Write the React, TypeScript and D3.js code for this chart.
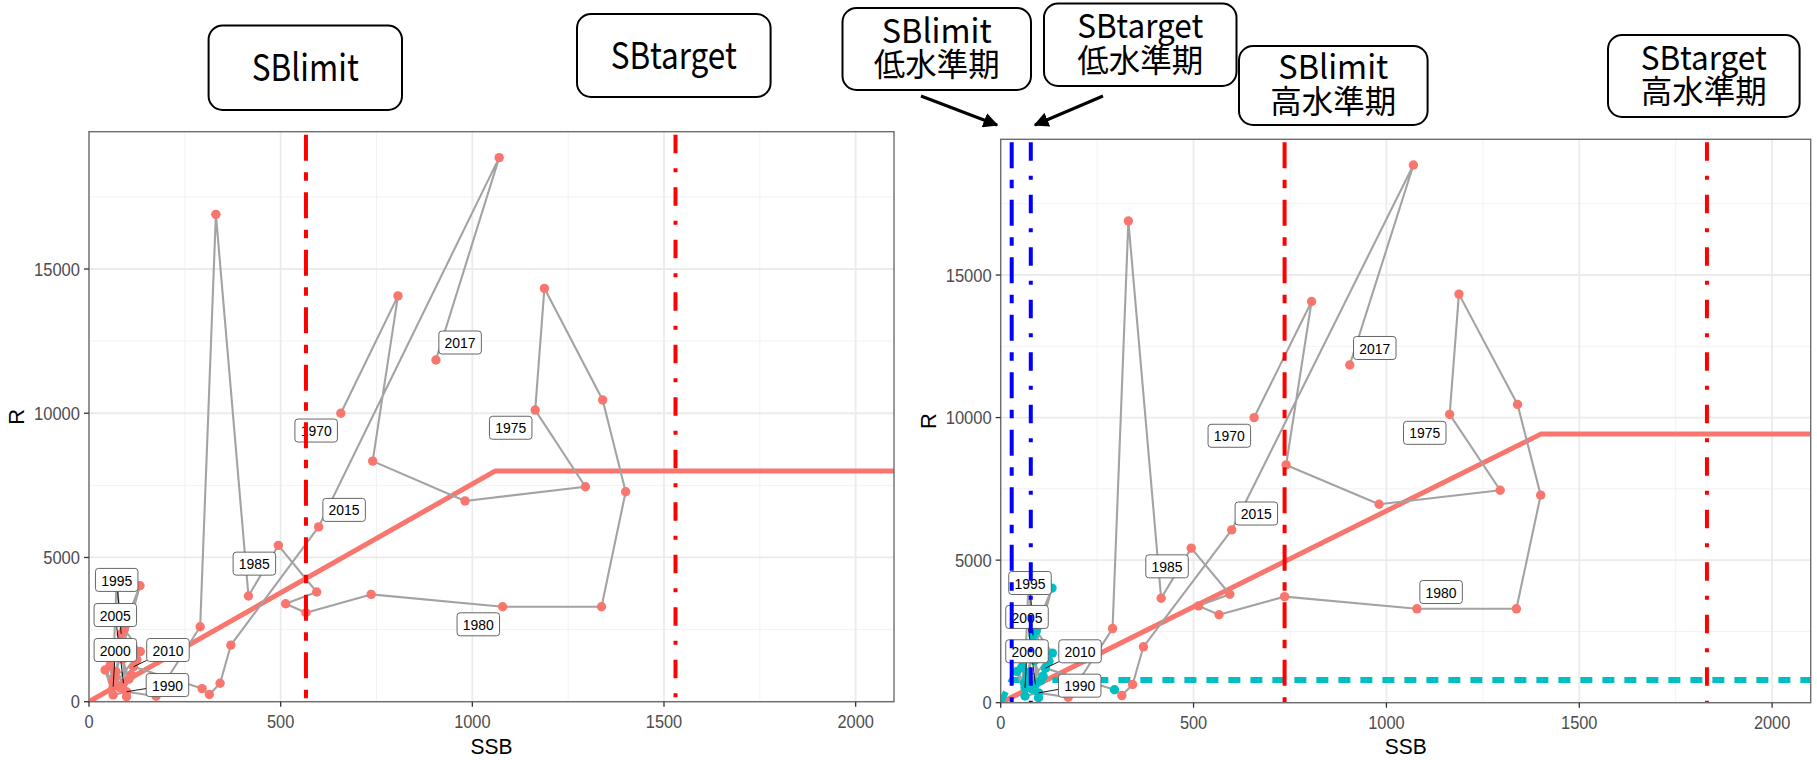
import React from "react";
import * as d3 from "d3";

// ---------------- data ----------------
const years = [
  1970, 1971, 1972, 1973, 1974, 1975, 1976, 1977, 1978, 1979, 1980,
  1981, 1982, 1983, 1984, 1985, 1986, 1987, 1988, 1989,
  1990, 1991, 1992, 1993, 1994, 1995, 1996, 1997, 1998, 1999,
  2000, 2001, 2002, 2003, 2004, 2005, 2006, 2007, 2008, 2009,
  2010, 2011, 2012, 2013, 2014, 2015, 2016, 2017,
];
const ssb = [
  657, 806, 740, 981, 1295, 1164, 1188, 1340, 1400, 1337, 1079,
  736, 566, 513, 594, 494, 416, 331, 290, 175,
  98, 63, 42, 62, 72, 84, 133, 68, 92, 134,
  63, 55, 98, 88, 104, 90, 70, 110, 82, 125,
  116, 295, 314, 342, 370, 599, 1070, 905,
];
const recruitment = [
  10000, 14070, 8340, 6960, 7450, 10110, 14330, 10460, 7280, 3293, 3293,
  3720, 3085, 3397, 3803, 5421, 3664, 16895, 2600, 190,
  345, 235, 1100, 700, 4200, 2350, 4020, 900, 2520, 1740,
  520, 1250, 175, 1480, 780, 640, 1050, 930, 470, 1450,
  1210, 455, 250, 640, 1960, 6060, 18860, 11845,
];
const labelYears = [1970, 1975, 1980, 1985, 1990, 1995, 2000, 2005, 2010, 2015, 2017];
const lowRegimePeriod = [1990, 2011];

const xTicks = [0, 500, 1000, 1500, 2000];
const yTicks = [0, 5000, 10000, 15000];
const xMinor = [250, 750, 1250, 1750];
const yMinor = [2500, 7500, 12500, 17500];
const xDomain = [0, 2100];
const yDomain = [0, 19760];

// hockey-stick fits [breakpoint SSB, plateau R]
const hsAll = [1060, 8000];
const hsHigh = [1400, 9420];
const hsLow = [28.5, 800];

// reference points
const sbLimitAll = 566;
const sbTargetAll = 1530;
const sbLimitLow = 28.5;
const sbTargetLow = 78;
const sbLimitHigh = 736;
const sbTargetHigh = 1831;

// ---------------- layout ----------------
const W = 1817;
const H = 760;
const LEFT = { x0: 89, x1: 894, y0: 701.7, y1: 131.7 };
const RIGHT = { x0: 1000.7, x1: 1810.7, y0: 702.7, y1: 139.3 };

// label box centre offsets (px) from the labelled point
const offsL: Record<number, [number, number]> = {
  1970: [-24.7, 17.3], 1975: [-24.5, 17.7], 1980: [-24.3, 17.6], 1985: [-24, 18.3],
  2015: [25.5, -17], 2017: [24.2, -17.5],
  1995: [-4.5, -54], 2005: [-8.2, -68.2], 2000: [2.2, -36.7], 2010: [34.5, -16.8], 1990: [40.9, -6.7],
};
const offsR: Record<number, [number, number]> = {
  1970: [-24.8, 18.2], 1975: [-24.9, 18.4], 1980: [24.2, -16.8], 1985: [-24.2, 18.2],
  2015: [24.6, -16.4], 2017: [25, -17],
  1995: [-3.1, -52.7], 2005: [-8.4, -67.5], 2000: [2, -36.6], 2010: [34.6, -16.9], 1990: [41.2, -7.2],
};

const SALMON = "#F8766D";
const CYAN = "#00BFC4";
const RED = "#FF0000";
const BLUE = "#0000FF";
const GREY_PATH = "#A3A3A3";
const AXFONT = "'Liberation Sans', Arial, Helvetica, sans-serif";
const BOXFONT = "'Noto Sans CJK JP', 'Noto Sans', sans-serif";
const DASH_LIMIT = "26 11.5 8.5 11.5";
const DASH_TARGET = "18.5 15 4 15";

type Lab = { year: number; x: number; y: number };

function segToBox(cx: number, cy: number, hw: number, hh: number, px: number, py: number) {
  const dx = px - cx;
  const dy = py - cy;
  const tx = dx === 0 ? Infinity : hw / Math.abs(dx);
  const ty = dy === 0 ? Infinity : hh / Math.abs(dy);
  const t = Math.min(tx, ty, 1);
  return [cx + dx * t, cy + dy * t];
}

function Panel(props: {
  id: string;
  box: { x0: number; x1: number; y0: number; y1: number };
  colorOf: (yr: number) => string;
  hs: { fit: number[]; color: string; dash?: string; width: number }[];
  vlines: { v: number; color: string; dash: string }[];
  offs: Record<number, [number, number]>;
}) {
  const { box } = props;
  const x = d3.scaleLinear().domain(xDomain).range([box.x0, box.x1]);
  const y = d3.scaleLinear().domain(yDomain).range([box.y0, box.y1]);
  const pts = years.map((yr, i) => ({ yr, px: x(ssb[i]), py: y(recruitment[i]) }));
  const path = d3.line<{ px: number; py: number }>().x((d) => d.px).y((d) => d.py)(pts) || "";
  const hsPath = (fit: number[]) =>
    d3.line<number[]>().x((d) => x(d[0])).y((d) => y(d[1]))([
      [0, 0],
      [fit[0], fit[1]],
      [xDomain[1], fit[1]],
    ]) || "";
  const labs: Lab[] = labelYears.map((yr) => {
    const p = pts[years.indexOf(yr)];
    const o = props.offs[yr];
    return { year: yr, x: p.px + o[0], y: p.py + o[1] };
  });
  const BW = 42.5;
  const BH = 23;
  return (
    <g>
      <defs>
        <clipPath id={props.id + "clip"}>
          <rect x={box.x0} y={box.y1} width={box.x1 - box.x0} height={box.y0 - box.y1} />
        </clipPath>
      </defs>
      <rect x={box.x0} y={box.y1} width={box.x1 - box.x0} height={box.y0 - box.y1} fill="#fff" />
      {xMinor.map((v) => (
        <line key={"xm" + v} x1={x(v)} x2={x(v)} y1={box.y0} y2={box.y1} stroke="#F2F2F2" strokeWidth={1} />
      ))}
      {yMinor.map((v) => (
        <line key={"ym" + v} x1={box.x0} x2={box.x1} y1={y(v)} y2={y(v)} stroke="#F2F2F2" strokeWidth={1} />
      ))}
      {xTicks.map((v) => (
        <line key={"xg" + v} x1={x(v)} x2={x(v)} y1={box.y0} y2={box.y1} stroke="#EBEBEB" strokeWidth={1.8} />
      ))}
      {yTicks.map((v) => (
        <line key={"yg" + v} x1={box.x0} x2={box.x1} y1={y(v)} y2={y(v)} stroke="#EBEBEB" strokeWidth={1.8} />
      ))}
      <g clipPath={`url(#${props.id}clip)`}>
        {props.hs.map((h, i) => (
          <path key={"hs" + i} d={hsPath(h.fit)} fill="none" stroke={h.color} strokeWidth={h.width}
            strokeDasharray={h.dash} strokeLinejoin="round" />
        ))}
        <path d={path} fill="none" stroke={GREY_PATH} strokeWidth={2.1} strokeLinejoin="round" />
        {pts.map((p) => (
          <circle key={"p" + p.yr} cx={p.px} cy={p.py} r={4.7} fill={props.colorOf(p.yr)} />
        ))}
        {labs.map((l) => {
          const p = pts[years.indexOf(l.year)];
          const dist = Math.hypot(p.px - l.x, p.py - l.y);
          if (dist < 35) return null;
          const [sx0, sy0] = segToBox(l.x, l.y, BW / 2, BH / 2, p.px, p.py);
          return <line key={"s" + l.year} x1={sx0} y1={sy0} x2={p.px} y2={p.py} stroke="#000" strokeWidth={0.9} />;
        })}
        {labs.map((l) => (
          <g key={"l" + l.year}>
            <rect x={l.x - BW / 2} y={l.y - BH / 2} width={BW} height={BH} rx={3} fill="#fff" stroke="#555" strokeWidth={0.9} />
            <text x={l.x} y={l.y + 5.6} textAnchor="middle" fontFamily={AXFONT} fontSize={15.5}
              textLength={31} lengthAdjust="spacingAndGlyphs" fill="#000">{l.year}</text>
          </g>
        ))}
        {props.vlines.map((v, i) => (
          <line key={"v" + i} x1={x(v.v)} x2={x(v.v)} y1={box.y1 + 3} y2={box.y0} stroke={v.color}
            strokeWidth={4} strokeDasharray={v.dash} />
        ))}
      </g>
      <rect x={box.x0} y={box.y1} width={box.x1 - box.x0} height={box.y0 - box.y1} fill="none" stroke="#6E6E6E" strokeWidth={1.4} />
      {xTicks.map((v) => (
        <g key={"xt" + v}>
          <line x1={x(v)} x2={x(v)} y1={box.y0} y2={box.y0 + 5} stroke="#333" strokeWidth={1.3} />
          <text x={x(v)} y={box.y0 + 26} textAnchor="middle" fontFamily={AXFONT} fontSize={18}
            textLength={String(v).length * 9.1} lengthAdjust="spacingAndGlyphs" fill="#4D4D4D">{v}</text>
        </g>
      ))}
      {yTicks.map((v) => (
        <g key={"yt" + v}>
          <line x1={box.x0 - 5} x2={box.x0} y1={y(v)} y2={y(v)} stroke="#333" strokeWidth={1.3} />
          <text x={box.x0 - 9} y={y(v) + 6.5} textAnchor="end" fontFamily={AXFONT} fontSize={18}
            textLength={String(v).length * 9.2} lengthAdjust="spacingAndGlyphs" fill="#4D4D4D">{v}</text>
        </g>
      ))}
      <text x={(box.x0 + box.x1) / 2} y={754} textAnchor="middle" fontFamily={AXFONT} fontSize={22}
        textLength={42} lengthAdjust="spacingAndGlyphs" fill="#000">SSB</text>
      <text transform={`translate(${box.x0 - 65},${(box.y0 + box.y1) / 2}) rotate(-90)`} textAnchor="middle"
        fontFamily={AXFONT} fontSize={22} fill="#000">R</text>
    </g>
  );
}

const boxes: { x0: number; x1: number; y0: number; y1: number; lines: string[] }[] = [
  { x0: 208.6, x1: 402, y0: 25.5, y1: 110, lines: ["SBlimit"] },
  { x0: 577, x1: 770.6, y0: 14, y1: 97, lines: ["SBtarget"] },
  { x0: 842.5, x1: 1031, y0: 8, y1: 90, lines: ["SBlimit", "低水準期"] },
  { x0: 1044, x1: 1236.5, y0: 3.5, y1: 86, lines: ["SBtarget", "低水準期"] },
  { x0: 1239, x1: 1427.6, y0: 46, y1: 125, lines: ["SBlimit", "高水準期"] },
  { x0: 1608, x1: 1799.6, y0: 35, y1: 117, lines: ["SBtarget", "高水準期"] },
];

function Annot() {
  return (
    <g>
      <defs>
        <marker id="ah" viewBox="0 0 10 10" refX="9" refY="5" markerWidth="5" markerHeight="5" orient="auto">
          <path d="M0,0 L10,5 L0,10 z" fill="#000" />
        </marker>
      </defs>
      {boxes.map((b, i) => {
        const cx = (b.x0 + b.x1) / 2;
        const cy = (b.y0 + b.y1) / 2;
        const isLimit = (s: string) => s === "SBlimit";
        return (
          <g key={"b" + i}>
            <rect x={b.x0} y={b.y0} width={b.x1 - b.x0} height={b.y1 - b.y0} rx={14} fill="#fff" stroke="#000" strokeWidth={2} />
            {b.lines.length === 1 ? (
              <text x={cx} y={cy + 13} textAnchor="middle" fontFamily={BOXFONT} fontSize={37}
                textLength={isLimit(b.lines[0]) ? 107 : 126} lengthAdjust="spacingAndGlyphs">{b.lines[0]}</text>
            ) : (
              <text textAnchor="middle" fontFamily={BOXFONT}>
                <tspan x={cx} y={cy - 6.5} fontSize={33}
                  textLength={isLimit(b.lines[0]) ? 110 : 126} lengthAdjust="spacingAndGlyphs">{b.lines[0]}</tspan>
                <tspan x={cx} y={cy + 27} fontSize={32}
                  textLength={126} lengthAdjust="spacingAndGlyphs">{b.lines[1]}</tspan>
              </text>
            )}
          </g>
        );
      })}
      <line x1={921} y1={96} x2={997} y2={125} stroke="#000" strokeWidth={3} markerEnd="url(#ah)" />
      <line x1={1103} y1={96} x2={1035} y2={125} stroke="#000" strokeWidth={3} markerEnd="url(#ah)" />
    </g>
  );
}

export default function App() {
  const inLow = (yr: number) => yr >= lowRegimePeriod[0] && yr <= lowRegimePeriod[1];
  return (
    <svg width={W} height={H} style={{ position: "absolute", left: 0, top: 0, background: "#fff" }}>
      <rect width={W} height={H} fill="#fff" />
      <Panel
        id="L"
        box={LEFT}
        colorOf={() => SALMON}
        hs={[{ fit: hsAll, color: SALMON, width: 5 }]}
        vlines={[
          { v: sbLimitAll, color: RED, dash: DASH_LIMIT },
          { v: sbTargetAll, color: RED, dash: DASH_TARGET },
        ]}
        offs={offsL}
      />
      <Panel
        id="R"
        box={RIGHT}
        colorOf={(yr) => (inLow(yr) ? CYAN : SALMON)}
        hs={[
          { fit: hsHigh, color: SALMON, width: 5 },
          { fit: hsLow, color: CYAN, width: 6, dash: "12 10" },
        ]}
        vlines={[
          { v: sbLimitLow, color: BLUE, dash: DASH_LIMIT },
          { v: sbTargetLow, color: BLUE, dash: DASH_TARGET },
          { v: sbLimitHigh, color: RED, dash: DASH_LIMIT },
          { v: sbTargetHigh, color: RED, dash: DASH_TARGET },
        ]}
        offs={offsR}
      />
      <Annot />
    </svg>
  );
}
